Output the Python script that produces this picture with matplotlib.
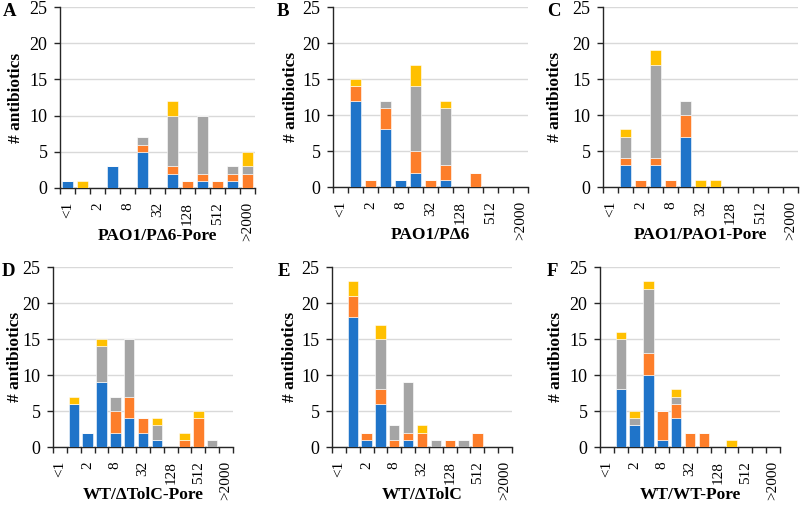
import numpy as np
import matplotlib
matplotlib.use("Agg")
import matplotlib.pyplot as plt

plt.rcParams['font.family'] = ['Liberation Serif', 'DejaVu Serif']

categories = ["<1", "1", "2", "4", "8", "16", "32", "64", "128", "256", "512", "1024", ">2000"]
shown_labels = ["<1", "", "2", "", "8", "", "32", "", "128", "", "512", "", ">2000"]

# A: PAO1/PΔ6-Pore
a_blue   = [1, 0, 0, 3, 0, 5, 0, 2, 0, 1, 0, 1, 0]
a_orange = [0, 0, 0, 0, 0, 1, 0, 1, 1, 1, 1, 1, 2]
a_gray   = [0, 0, 0, 0, 0, 1, 0, 7, 0, 8, 0, 1, 1]
a_yellow = [0, 1, 0, 0, 0, 0, 0, 2, 0, 0, 0, 0, 2]

# B: PAO1/PΔ6
b_blue   = [0, 12, 0, 8, 1, 2, 0, 1, 0, 0, 0, 0, 0]
b_orange = [0, 2, 1, 3, 0, 3, 1, 2, 0, 2, 0, 0, 0]
b_gray   = [0, 0, 0, 1, 0, 9, 0, 8, 0, 0, 0, 0, 0]
b_yellow = [0, 1, 0, 0, 0, 3, 0, 1, 0, 0, 0, 0, 0]

# C: PAO1/PAO1-Pore
c_blue   = [0, 3, 0, 3, 0, 7, 0, 0, 0, 0, 0, 0, 0]
c_orange = [0, 1, 1, 1, 1, 3, 0, 0, 0, 0, 0, 0, 0]
c_gray   = [0, 3, 0, 13, 0, 2, 0, 0, 0, 0, 0, 0, 0]
c_yellow = [0, 1, 0, 2, 0, 0, 1, 1, 0, 0, 0, 0, 0]

# D: WT/ΔTolC-Pore
d_blue   = [0, 6, 2, 9, 2, 4, 2, 1, 0, 0, 0, 0, 0]
d_orange = [0, 0, 0, 0, 3, 3, 2, 0, 0, 1, 4, 0, 0]
d_gray   = [0, 0, 0, 5, 2, 8, 0, 2, 0, 0, 0, 1, 0]
d_yellow = [0, 1, 0, 1, 0, 0, 0, 1, 0, 1, 1, 0, 0]

# E: WT/ΔTolC
e_blue   = [0, 18, 1, 6, 0, 1, 0, 0, 0, 0, 0, 0, 0]
e_orange = [0, 3, 1, 2, 1, 1, 2, 0, 1, 0, 2, 0, 0]
e_gray   = [0, 0, 0, 7, 2, 7, 0, 1, 0, 1, 0, 0, 0]
e_yellow = [0, 2, 0, 2, 0, 0, 1, 0, 0, 0, 0, 0, 0]

# F: WT/WT-Pore
f_blue   = [0, 8, 3, 10, 1, 4, 0, 0, 0, 0, 0, 0, 0]
f_orange = [0, 0, 0, 3, 4, 2, 2, 2, 0, 0, 0, 0, 0]
f_gray   = [0, 7, 1, 9, 0, 1, 0, 0, 0, 0, 0, 0, 0]
f_yellow = [0, 1, 1, 1, 0, 1, 0, 0, 0, 1, 0, 0, 0]

colors = ["#1f74c9", "#fd7e2a", "#a5a5a5", "#ffc000"]

W, H = 800, 505
fig = plt.figure(figsize=(W / 100, H / 100), dpi=100)


def add_panel(left, right, top, bottom, series, letter, letter_x, ylab_x, xlabel):
    ax = fig.add_axes([left / W, 1 - bottom / H, (right - left) / W, (bottom - top) / H])
    x = np.arange(len(categories))
    base = np.zeros(len(categories))
    for vals, col in zip(series, colors):
        vals = np.array(vals, dtype=float)
        ax.bar(x, vals, 0.75, bottom=base, color=col, edgecolor="white", linewidth=0.4, zorder=3)
        base += vals

    ax.set_xlim(-0.5, len(categories) - 0.5)
    ax.set_ylim(0, 25)
    ax.set_yticks(range(0, 26, 5))
    ax.yaxis.grid(True, color="#d9d9d9", linewidth=1.0, zorder=0)
    ax.set_axisbelow(True)
    for s in ["top", "right"]:
        ax.spines[s].set_visible(False)
    for s in ["left", "bottom"]:
        ax.spines[s].set_color("#262626")
        ax.spines[s].set_linewidth(1.0)

    ax.set_xticks(x)
    ax.set_xticklabels(shown_labels, rotation=90, fontsize=11)
    ax.tick_params(axis="x", which="major", length=0, pad=10)
    ax.set_xticks(np.arange(-0.5, len(categories)), minor=True)
    ax.tick_params(axis="x", which="minor", length=4, width=1.0, color="#262626")
    ax.tick_params(axis="y", length=4, width=1.0, color="#262626", labelsize=13, pad=5)

    fig.text(ylab_x / W, 1 - (top + bottom) / 2 / H, "# antibiotics", rotation=90,
             ha="center", va="center", fontsize=12.5, fontweight="bold")
    fig.text((left + right) / 2 / W, 1 - (bottom + 48) / H, xlabel,
             ha="center", va="center", fontsize=12.5, fontweight="bold")
    fig.text(letter_x / W, 1 - (top + 4) / H, letter,
             ha="left", va="center", fontsize=13.5, fontweight="bold")
    return ax


add_panel(60, 255, 7, 188, [a_blue, a_orange, a_gray, a_yellow], "A", 3, 16, "PAO1/PΔ6-Pore")
add_panel(333, 528, 7, 187, [b_blue, b_orange, b_gray, b_yellow], "B", 277, 291, "PAO1/PΔ6")
add_panel(603, 798, 7, 187, [c_blue, c_orange, c_gray, c_yellow], "C", 547, 555, "PAO1/PAO1-Pore")
add_panel(53, 233, 267, 447, [d_blue, d_orange, d_gray, d_yellow], "D", 2, 15, "WT/ΔTolC-Pore")
add_panel(332, 512, 267, 447, [e_blue, e_orange, e_gray, e_yellow], "E", 278, 290, "WT/ΔTolC")
add_panel(600, 780, 267, 447, [f_blue, f_orange, f_gray, f_yellow], "F", 547, 556, "WT/WT-Pore")

fig.savefig("out.png", dpi=100)
